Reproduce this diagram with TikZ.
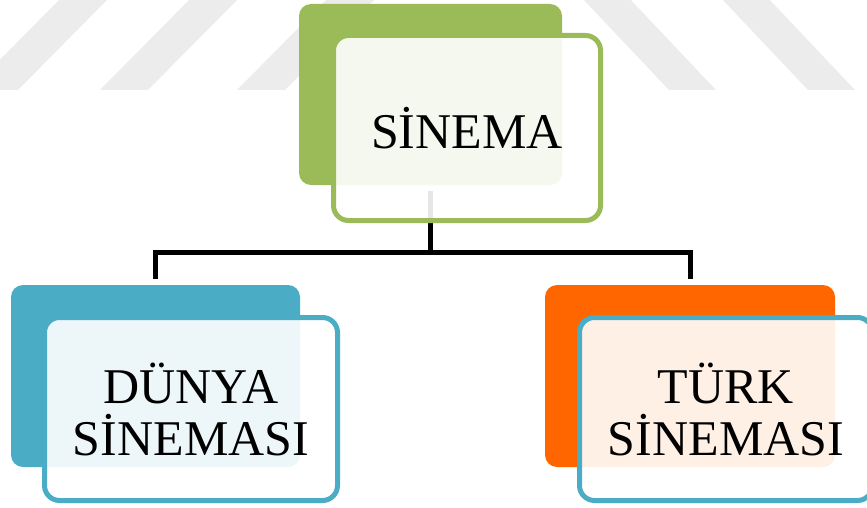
\documentclass[tikz,border=0pt]{standalone}
\usepackage{fontspec}
\setmainfont{Liberation Serif}
\definecolor{sinemagreen}{HTML}{9BBB59}
\definecolor{dunyablue}{HTML}{4BACC6}
\definecolor{turkorange}{HTML}{FF6600}
\tikzset{
  backbox/.style={rectangle,rounded corners=12pt,inner sep=0pt},
  frontbox/.style={rectangle,rounded corners=15pt,inner sep=0pt,line width=5pt,
    fill=white,fill opacity=0.9,text opacity=1,align=center,
    font=\fontsize{50}{52}\selectfont},
  conn/.style={line width=5pt,black},
}
\begin{document}
\begin{tikzpicture}[x=1pt,y=1pt]
\clip (0,0) rectangle (867,507);
% faint stripes at the top
\foreach \s in {-30,100,237}
  \fill[gray!15] (\s,417)--(\s+48,417)--(\s+140,510)--(\s+92,510)--cycle;
\foreach \s in {581,720}
  \fill[gray!15] (\s,510)--(\s+47,510)--(\s+135,417)--(\s+88,417)--cycle;
% back boxes
\node[backbox,fill=sinemagreen,minimum width=263pt,minimum height=181pt] (sinemaB) at (430.5,412.5) {};
\node[backbox,fill=dunyablue,minimum width=289pt,minimum height=182pt] (dunyaB) at (155.5,131) {};
\node[backbox,fill=turkorange,minimum width=290pt,minimum height=182pt] (turkB) at (690,131) {};
% connectors
\coordinate (top) at ([yshift=-6pt]sinemaB.south);
\coordinate (fork) at ([yshift=-67pt]sinemaB.south);
\coordinate (dunyaT) at ([yshift=6pt]dunyaB.north);
\coordinate (turkT) at ([yshift=6pt]turkB.north);
\draw[conn] (top)--(fork);
\draw[conn] (dunyaT)|-(fork)-|(turkT);
% front boxes
\node[frontbox,draw=sinemagreen,minimum width=267pt,minimum height=185pt] (sinema) at (467,379) {SİNEMA};
\node[frontbox,draw=dunyablue,minimum width=293pt,minimum height=183pt] (dunya) at (191,98) {DÜNYA\\SİNEMASI};
\node[frontbox,draw=dunyablue,minimum width=293pt,minimum height=183pt] (turk) at (726,98) {TÜRK\\SİNEMASI};
\end{tikzpicture}
\end{document}
